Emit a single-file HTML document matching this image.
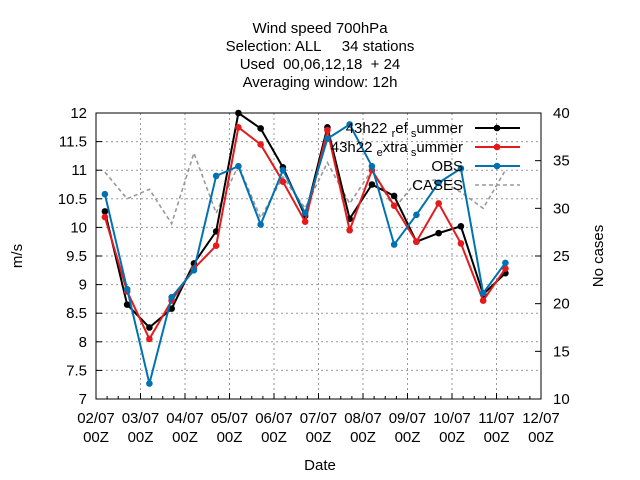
<!DOCTYPE html>
<html><head><meta charset="utf-8"><style>
body{margin:0;background:#fff}
svg{display:block;font-family:"Liberation Sans",sans-serif}
text{white-space:pre}
</style></head><body>
<svg id="c" width="640" height="480"></svg>
<script>
const dateLabels=["02/07","03/07","04/07","05/07","06/07","07/07","08/07","09/07","10/07","11/07","12/07"];
const yTicks=[7,7.5,8,8.5,9,9.5,10,10.5,11,11.5,12];
const y2Ticks=[10,15,20,25,30,35,40];
const refSummer=[10.28,8.65,8.25,8.58,9.37,9.93,12.0,11.73,11.05,10.2,11.75,10.15,10.75,10.55,9.75,9.9,10.02,8.83,9.2];
const extraSummer=[10.18,8.88,8.05,8.72,9.28,9.68,11.75,11.45,10.8,10.1,11.7,9.95,11.0,10.38,9.75,10.42,9.72,8.72,9.28];
const obs=[10.58,8.92,7.27,8.78,9.25,10.9,11.07,10.05,11.0,10.25,11.55,11.8,11.07,9.7,10.22,10.78,11.03,8.85,9.38];
const cases=[33.8,31,32,28.4,35.8,29.5,34.5,29,33.3,30,34.8,30.5,34,30,32.8,33,31.7,30,34];
const NS="http://www.w3.org/2000/svg",svg=document.getElementById('c');
const L=96,R=541,T=113,B=399,FS=15;
const xs=d=>L+(R-L)*d/10, ys=v=>B-(v-7)/5*(B-T), ys2=v=>B-(v-10)/30*(B-T);
const tx=i=>xs(0.2+0.5*i);
function el(t,a,p){const e=document.createElementNS(NS,t);for(const k in a)e.setAttribute(k,a[k]);(p||svg).appendChild(e);return e;}
function txt(x,y,s,anchor,name){const e=el('text',{x:x,y:y,'font-size':FS,'text-anchor':anchor||'middle',fill:'#000'});e.textContent=s;

return e;}
["Wind speed 700hPa","Selection: ALL     34 stations","Used  00,06,12,18  + 24","Averaging window: 12h"].forEach((s,i)=>{txt(320,33+i*18,s,'middle','chart-title-line');});
yTicks.forEach(v=>{if(v>7&&v<12){const g=el('line',{x1:L,x2:R,y1:ys(v),y2:ys(v),stroke:'#999','stroke-dasharray':'2,3'});

}
el('line',{x1:L,x2:L+6,y1:ys(v),y2:ys(v),stroke:'#000'});
txt(L-9,ys(v)+5,String(v),'end','y-tick-label');});
y2Ticks.forEach(v=>{el('line',{x1:R-6,x2:R,y1:ys2(v),y2:ys2(v),stroke:'#000'});txt(R+12,ys2(v)+5,String(v),'start','y2-tick-label');});
dateLabels.forEach((d,i)=>{const x=xs(i);if(i>0&&i<10){const g=el('line',{x1:x,x2:x,y1:T,y2:B,stroke:'#999','stroke-dasharray':'2,3'});

}
el('line',{x1:x,x2:x,y1:B,y2:B-6,stroke:'#000'});
if(i<10)for(let k=1;k<4;k++){const mx=xs(i+k/4);el('line',{x1:mx,x2:mx,y1:B,y2:B-3,stroke:'#000'});}
txt(x,B+24,d,'middle','x-tick-date');txt(x,B+43,'00Z','middle','x-tick-hour');});
const f=el('rect',{x:L,y:T,width:R-L,height:B-T,fill:'none',stroke:'#000'});


txt(320,470,'Date','middle','x-axis-title');
const yl=txt(0,0,'m/s','middle','y-axis-title');yl.setAttribute('transform','translate(22,256) rotate(-90)');
const y2l=txt(0,0,'No cases','middle','y2-axis-title');y2l.setAttribute('transform','translate(603,256) rotate(-90)');
function series(data,color,name,fy,dash,marker){
 const g=el('g',{});
 
 
 el('polyline',{points:data.map((v,i)=>tx(i)+','+fy(v)).join(' '),fill:'none',stroke:color,'stroke-width':dash?1.6:2,'stroke-dasharray':dash||''},g);
 if(marker)data.forEach((v,i)=>{const m=el('circle',{cx:tx(i),cy:fy(v),r:3.3,fill:color},g);
 
 });
}
series(cases,'#999','cases-line',ys2,'4,3',false);
series(refSummer,'#000','ref-summer-line',ys,null,true);
series(extraSummer,'#e41a1c','extra-summer-line',ys,null,true);
series(obs,'#0072b2','obs-line',ys,null,true);
const leg=[["43h22 ref summer",'#000',0],["43h22 extra summer",'#e41a1c',0],["OBS",'#0072b2',0],["CASES",'#999',1]];
leg.forEach((l,i)=>{const y=128+i*19;
 const g=el('g',{});
 const t=el('text',{x:463,y:y+5,'font-size':FS,'text-anchor':'end'},g);
 if(i<2){const p=l[0].split(' ');t.textContent=p[0]+' ';const s1=el('tspan',{'font-size':11,dy:4},t);s1.textContent=p[1][0]==='r'?'r':'e';
  const s2=el('tspan',{dy:-4},t);s2.textContent=p[1].slice(1);const s3=el('tspan',{'font-size':11,dy:4},t);s3.textContent=' s';const s4=el('tspan',{dy:-4},t);s4.textContent='ummer';}
 else t.textContent=l[0];
 el('line',{x1:475,x2:520,y1:y,y2:y,stroke:l[1],'stroke-width':l[2]?1.6:2,'stroke-dasharray':l[2]?'4,3':''},g);
 if(!l[2])el('circle',{cx:497,cy:y,r:3.3,fill:l[1]},g);
});
</script>
</body></html>
